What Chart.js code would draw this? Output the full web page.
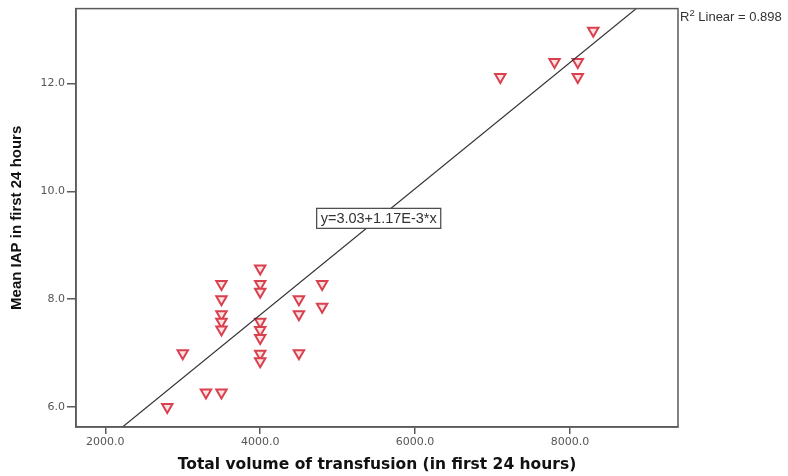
<!DOCTYPE html>
<html>
<head>
<meta charset="utf-8">
<script src="https://cdn.jsdelivr.net/npm/chart.js@4"></script>
<style>
  html, body { margin: 0; padding: 0; background: #fff; }
  #wrap { width: 788px; height: 476px; }
</style>
</head>
<body>
<div id="wrap"><canvas id="myChart"></canvas></div>
<script>
// scatter data
var volume = [2800, 3000, 3300, 3500,
              3500, 3500, 3500, 3500, 3500,
              4000, 4000, 4000, 4000, 4000, 4000, 4000, 4000,
              4500, 4500, 4500, 4800, 4800,
              7100, 7800, 8100, 8100, 8300];
var iap = [6.0, 7.0, 6.27, 6.27,
           8.28, 8.0, 7.72, 7.58, 7.44,
           8.57, 8.28, 8.14, 7.58, 7.43, 7.28, 6.99, 6.85,
           8.0, 7.72, 7.0, 8.28, 7.86,
           12.12, 12.4, 12.4, 12.12, 12.98];

// fit line from the figure
var intercept = 3.03;
var slope = 0.00117;
var fitLabel = "y=3.03+1.17E-3*x";
var fitLabelAt = [5530, 9.5];
var r2Text = " Linear = 0.898";

// axes
var xRange = [1622, 9394];
var yRange = [5.63, 13.39];
var xTicks = [2000, 4000, 6000, 8000];
var yTicks = [6, 8, 10, 12];

var points = [];
for (let i = 0; i < volume.length; i++) {
    points.push({x: volume[i], y: iap[i]});
}
var fitLine = [
    {x: xRange[0], y: intercept + slope * xRange[0]},
    {x: xRange[1], y: intercept + slope * xRange[1]}
];

const frameColor = "#5a5a5a";
const tickFont = {family: "'DejaVu Sans', Verdana, sans-serif", size: 11};

// box round the plot, and the two text notes
const extras = {
    id: "extras",
    afterDraw: (chart) => {
        const ctx = chart.ctx;
        const a = chart.chartArea;
        ctx.save();
        ctx.strokeStyle = frameColor;
        ctx.lineWidth = 1.5;
        ctx.strokeRect(a.left, a.top, a.right - a.left, a.bottom - a.top);

        // equation box
        const px = chart.scales.x.getPixelForValue(fitLabelAt[0]);
        const py = chart.scales.y.getPixelForValue(fitLabelAt[1]);
        ctx.font = "14.5px 'Liberation Sans', Arial, sans-serif";
        const w = ctx.measureText(fitLabel).width + 8;
        const h = 20;
        ctx.fillStyle = "#fff";
        ctx.fillRect(px - w / 2, py - h / 2, w, h);
        ctx.strokeStyle = "#444";
        ctx.lineWidth = 1.2;
        ctx.strokeRect(px - w / 2, py - h / 2, w, h);
        ctx.fillStyle = "#333";
        ctx.textAlign = "center";
        ctx.textBaseline = "middle";
        ctx.fillText(fitLabel, px, py + 1);

        // R2 note, right of the frame
        ctx.textAlign = "left";
        ctx.textBaseline = "alphabetic";
        ctx.fillStyle = "#333";
        let tx = a.right + 2;
        const ty = a.top + 12;
        ctx.font = "13px 'Liberation Sans', Arial, sans-serif";
        ctx.fillText("R", tx, ty);
        tx += ctx.measureText("R").width;
        ctx.font = "9.5px 'Liberation Sans', Arial, sans-serif";
        ctx.fillText("2", tx, ty - 5);
        tx += ctx.measureText("2").width;
        ctx.font = "13px 'Liberation Sans', Arial, sans-serif";
        ctx.fillText(r2Text, tx, ty);
        ctx.restore();
    }
};

new Chart("myChart", {
    type: "scatter",
    data: {
        datasets: [{
            type: "line",
            data: fitLine,
            borderColor: "#333",
            borderWidth: 1.2,
            pointRadius: 0,
            fill: false
        }, {
            data: points,
            pointStyle: "triangle",
            rotation: 180,
            pointRadius: 6,
            borderWidth: 2,
            borderColor: "#d9414f",
            backgroundColor: "#fbe3e3"
        }]
    },
    options: {
        responsive: true,
        maintainAspectRatio: false,
        animation: false,
        layout: {padding: {top: 8, right: 110, left: 0, bottom: 0}},
        plugins: {
            legend: {display: false},
            tooltip: {enabled: false}
        },
        scales: {
            x: {
                type: "linear",
                min: xRange[0],
                max: xRange[1],
                afterBuildTicks: (scale) => { scale.ticks = xTicks.map(v => ({value: v})); },
                afterFit: (scale) => { scale.height = 49; },
                grid: {drawOnChartArea: false, drawTicks: true, tickLength: 7, color: frameColor, lineWidth: 1.5},
                border: {display: true, color: frameColor, width: 1.5},
                ticks: {
                    color: "#555",
                    padding: 2,
                    font: tickFont,
                    callback: (v) => v.toFixed(1)
                },
                title: {
                    display: true,
                    text: "Total volume of transfusion (in first 24 hours)",
                    color: "#111",
                    font: {family: "'DejaVu Sans', Verdana, sans-serif", size: 15.5, weight: "bold"},
                    padding: {top: 0, bottom: 2}
                }
            },
            y: {
                type: "linear",
                min: yRange[0],
                max: yRange[1],
                afterBuildTicks: (scale) => { scale.ticks = yTicks.map(v => ({value: v})); },
                afterFit: (scale) => { scale.width = 76; },
                grid: {drawOnChartArea: false, drawTicks: true, tickLength: 9, color: frameColor, lineWidth: 1.5},
                border: {display: true, color: frameColor, width: 1.5},
                ticks: {
                    color: "#555",
                    padding: 2,
                    font: tickFont,
                    callback: (v) => v.toFixed(1)
                },
                title: {
                    display: true,
                    text: "Mean IAP in first 24 hours",
                    color: "#111",
                    font: {family: "'Liberation Sans Narrow', 'Liberation Sans', Arial, sans-serif", size: 15, weight: "bold"},
                    padding: {top: 8, bottom: 0}
                }
            }
        }
    },
    plugins: [extras]
});
</script>
</body>
</html>
